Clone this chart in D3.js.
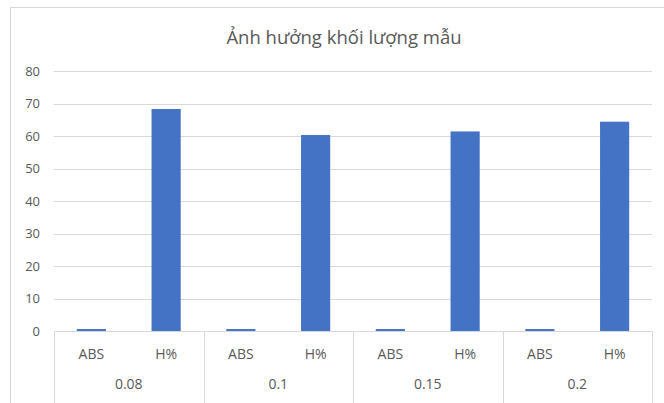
<!DOCTYPE html>
<meta charset="utf-8">
<style>
  body { margin: 0; background: #fff; }
  svg text { font-family: "Open Sans", "Noto Sans", sans-serif; fill: #595959; }
  .grid line { stroke: #d9d9d9; }
</style>
<body>
<script src="https://d3js.org/d3.v7.min.js"></script>
<script>
// data
var groups = ["0.08", "0.1", "0.15", "0.2"];
var series = ["ABS", "H%"];
var absValues = [0.6, 0.6, 0.6, 0.6];
var hValues = [68.3, 60.3, 61.4, 64.4];
var yTicks = [0, 10, 20, 30, 40, 50, 60, 70, 80];
var title = "Ảnh hưởng khối lượng mẫu";

var W = 664, H = 403;
var margin = {top: 71, right: 12, bottom: 72, left: 54},
    width = W - margin.left - margin.right,
    height = H - margin.top - margin.bottom;

var svg = d3.select("body").append("svg")
    .attr("width", W)
    .attr("height", H);

// outer chart border
svg.append("rect")
    .attr("x", 10.5).attr("y", 7.5)
    .attr("width", W).attr("height", H)
    .attr("fill", "none")
    .attr("stroke", "#d9d9d9");

svg.append("text")
    .attr("x", 344).attr("y", 44)
    .attr("text-anchor", "middle")
    .style("font-size", "18.5px")
    .text(title);

var g = svg.append("g")
    .attr("transform", "translate(" + margin.left + "," + margin.top + ")");

var x0 = d3.scaleBand().domain(groups).range([0, width]);
var x1 = d3.scaleBand().domain(series).range([0, x0.bandwidth()]).paddingInner(0.61).paddingOuter(0.305);
var y = d3.scaleLinear().domain([0, 80]).range([height, 0]);

// gridlines
g.append("g").attr("class", "grid")
  .selectAll("line")
  .data(yTicks.slice(1))
  .enter().append("line")
    .attr("x1", 0).attr("x2", width)
    .attr("y1", function(d) { return Math.round(y(d)) + 0.5; })
    .attr("y2", function(d) { return Math.round(y(d)) + 0.5; });

// y labels
var yAxis = d3.axisLeft(y).tickValues(yTicks).tickSize(0).tickPadding(14);
g.append("g").call(yAxis)
  .call(function(s) { s.select(".domain").remove(); })
  .selectAll("text")
    .style("font-size", "13px")
    .attr("fill", "#595959");

// bars
var data = groups.map(function(gr, i) {
  return {group: gr, values: [{key: "ABS", value: absValues[i]}, {key: "H%", value: hValues[i]}]};
});

g.selectAll(".grp")
  .data(data)
  .enter().append("g")
    .attr("transform", function(d) { return "translate(" + x0(d.group) + ",0)"; })
  .selectAll("rect")
  .data(function(d) { return d.values; })
  .enter().append("rect")
    .attr("x", function(d) { return x1(d.key); })
    .attr("width", x1.bandwidth())
    .attr("y", function(d) { return y(d.value); })
    .attr("height", function(d) { return height - y(d.value); })
    .attr("fill", "#4472c4");

// category axis (two levels)
g.append("line")
    .attr("x1", 0).attr("x2", width)
    .attr("y1", height + 0.5).attr("y2", height + 0.5)
    .attr("stroke", "#d9d9d9");

var seps = groups.map(function(d) { return x0(d); }).concat([width]);
g.selectAll(".sep")
  .data(seps)
  .enter().append("line")
    .attr("x1", function(d) { return Math.round(d) + 0.5; })
    .attr("x2", function(d) { return Math.round(d) + 0.5; })
    .attr("y1", height).attr("y2", H)
    .attr("stroke", "#d9d9d9");

data.forEach(function(d) {
  d.values.forEach(function(v) {
    g.append("text")
      .attr("x", x0(d.group) + x1(v.key) + x1.bandwidth() / 2)
      .attr("y", height + 28)
      .attr("text-anchor", "middle")
      .style("font-size", "14px")
      .text(v.key);
  });
  g.append("text")
    .attr("x", x0(d.group) + x0.bandwidth() / 2)
    .attr("y", height + 58)
    .attr("text-anchor", "middle")
    .style("font-size", "14px")
    .text(d.group);
});
</script>
</body>
